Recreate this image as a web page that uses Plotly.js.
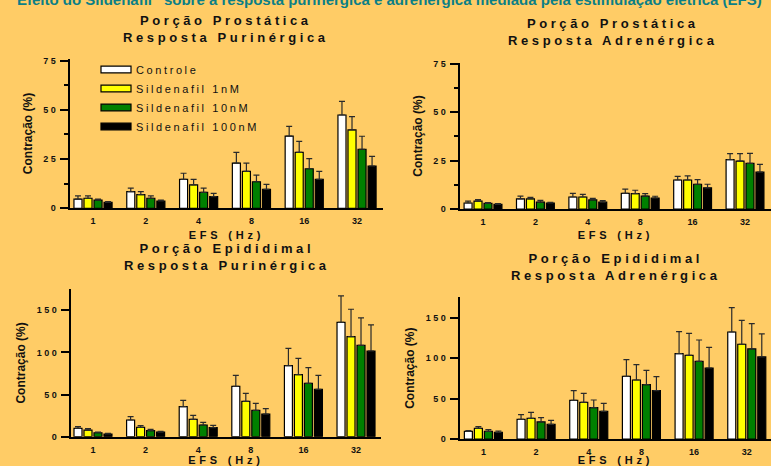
<!DOCTYPE html>
<html>
<head>
<meta charset="utf-8">
<script src="https://cdn.plot.ly/plotly-3.0.1.min.js"></script>
<style>
  html, body { margin: 0; padding: 0; background: #FFCC66; }
  #chart { width: 771px; height: 466px; }
  .annotation-text { letter-spacing: 3.6px; }
  .legendtext { letter-spacing: 2.6px; }
  .xtitle, .x2title, .x3title, .x4title { letter-spacing: 3.8px; }
  .ytick text, .y2tick text, .y3tick text, .y4tick text { letter-spacing: 2.5px; }
  .legend .legendpoints path { transform: translate(20px, 0px) scale(2.5, 0.56); vector-effect: non-scaling-stroke; }
</style>
</head>
<body>
<div id="chart"></div>
<script>
// ---- data ----
const freqs = ['1', '2', '4', '8', '16', '32'];
const seriesNames = ['Controle', 'Sildenafil 1nM', 'Sildenafil 10nM', 'Sildenafil 100nM'];
const seriesColors = ['#FFFFFF', '#FFFF00', '#008000', '#000000'];

// Porção Prostática – Resposta Purinérgica
const prostPurMean = [
  [4.7, 8.5, 14.7, 22.9, 36.7, 47.4],
  [5.1, 6.9, 11.9, 18.8, 28.4, 39.8],
  [4.2, 5.1, 8.1, 13.5, 20.1, 30.0],
  [3.0, 3.7, 5.9, 9.6, 14.7, 21.5]
];
const prostPurErr = [
  [1.6, 1.8, 3.1, 5.5, 4.9, 6.9],
  [1.2, 1.6, 2.8, 4.1, 5.6, 6.8],
  [0.5, 1.2, 2.1, 3.4, 5.1, 6.6],
  [0.4, 0.5, 1.7, 2.6, 4.1, 4.9]
];
// Porção Prostática – Resposta Adrenérgica
const prostAdrMean = [
  [3.1, 5.2, 6.2, 8.1, 15.0, 25.5],
  [4.1, 5.2, 6.2, 7.9, 15.0, 24.8],
  [2.9, 3.6, 4.7, 6.7, 12.8, 23.6],
  [2.4, 3.1, 3.6, 5.7, 10.9, 19.1]
];
const prostAdrErr = [
  [1.0, 1.5, 1.9, 2.2, 1.9, 3.1],
  [0.7, 0.8, 1.4, 1.8, 2.1, 3.8],
  [0.4, 0.9, 0.8, 1.2, 2.4, 5.2],
  [0.4, 0.3, 0.7, 0.9, 1.9, 4.0]
];
// Porção Epididimal – Resposta Purinérgica
const epidPurMean = [
  [9.9, 19.8, 35.6, 59.8, 84.3, 135.7],
  [7.9, 11.1, 20.6, 41.9, 73.6, 118.7],
  [4.7, 7.1, 13.9, 31.3, 63.3, 108.4],
  [3.2, 5.5, 10.7, 26.9, 56.2, 101.7]
];
const epidPurErr = [
  [2.0, 3.9, 7.5, 13.0, 20.6, 31.3],
  [1.6, 2.0, 4.7, 9.5, 19.4, 32.5],
  [0.8, 1.6, 3.1, 8.3, 18.6, 32.5],
  [0.8, 0.8, 2.8, 6.3, 16.6, 30.9]
];
// Porção Epididimal – Resposta Adrenérgica
const epidAdrMean = [
  [9.5, 24.4, 47.9, 77.7, 105.8, 132.6],
  [13.2, 25.6, 45.5, 73.1, 103.7, 117.4],
  [9.5, 21.1, 38.8, 67.4, 96.3, 111.6],
  [8.3, 18.2, 34.3, 59.9, 88.0, 101.7]
];
const epidAdrErr = [
  [0.8, 5.8, 12.0, 20.6, 27.3, 30.2],
  [2.1, 7.5, 11.1, 19.0, 27.3, 29.7],
  [2.1, 5.3, 9.5, 17.7, 26.4, 31.4],
  [1.6, 4.9, 9.9, 17.4, 25.6, 28.5]
];

const headerText = 'Efeito do Sildenafil<sup>®</sup> sobre a resposta purinérgica e adrenérgica mediada pela estimulação elétrica (EFS)';
const panelTitles = [
  'Porção Prostática<br>Resposta Purinérgica',
  'Porção Prostática<br>Resposta Adrenérgica',
  'Porção Epididimal<br>Resposta Purinérgica',
  'Porção Epididimal<br>Resposta Adrenérgica'
];
const xTitle = 'EFS (Hz)';
const yTitle = 'Contração (%)';
const yTicksTop = [0, 25, 50, 75];
const yTicksTopText = ['0', '25', '50', '75'];
const yMinorTop = [12.5, 37.5, 62.5];
const yTicksBottom = [0, 50, 100, 150];
const yTicksBottomText = ['0', '50', '100', '150'];

// ---- build ----
const W = 771, H = 466;
const FONT = 'Arial, "Liberation Sans", sans-serif';
const panels = [
  { mean: prostPurMean, err: prostPurErr, xa: 'x', ya: 'y' },
  { mean: prostAdrMean, err: prostAdrErr, xa: 'x2', ya: 'y2' },
  { mean: epidPurMean, err: epidPurErr, xa: 'x3', ya: 'y3' },
  { mean: epidAdrMean, err: epidAdrErr, xa: 'x4', ya: 'y4' }
];

const traces = [];
panels.forEach((p, pi) => {
  seriesNames.forEach((name, si) => {
    traces.push({
      type: 'bar',
      name: name,
      x: freqs,
      y: p.mean[si],
      xaxis: p.xa,
      yaxis: p.ya,
      showlegend: pi === 0,
      marker: { color: seriesColors[si], line: { color: '#000000', width: 1.2 } },
      error_y: {
        type: 'data', symmetric: false,
        array: p.err[si], arrayminus: p.err[si].map(() => 0),
        color: '#2a2a2a', thickness: 1.2, width: 3
      },
      hoverinfo: 'x+y+name'
    });
  });
});

function xAxis(d, range, anchor) {
  return {
    domain: [d[0] / W, d[1] / W], anchor: anchor, type: 'category', range: range,
    showline: true, linecolor: '#000', linewidth: 2, ticks: '', showgrid: false, zeroline: false,
    tickfont: { family: FONT, size: 9, color: '#111', weight: 'bold' },
    ticklabelstandoff: 3,
    title: { text: xTitle, font: { family: FONT, size: 11, color: '#111', weight: 'bold' }, standoff: 6 }
  };
}
function yAxis(bottomPx, topPx, range, vals, txt, minor, anchor) {
  const ax = {
    domain: [1 - bottomPx / H, 1 - topPx / H], anchor: anchor, range: range,
    showline: true, linecolor: '#000', linewidth: 2, showgrid: false, zeroline: false,
    ticks: 'outside', ticklen: 8, tickwidth: 2, tickcolor: '#000',
    tickmode: 'array', tickvals: vals, ticktext: txt,
    tickfont: { family: FONT, size: 9, color: '#111', weight: 'bold' },
    ticklabelstandoff: 0,
    title: { text: yTitle, font: { family: FONT, size: 12, color: '#111', weight: 'bold' }, standoff: 8 }
  };
  if (minor) ax.minor = { tickmode: 'array', tickvals: minor, ticks: 'outside', ticklen: 4, tickwidth: 2, tickcolor: '#000' };
  return ax;
}

const titleFont = { family: FONT, size: 13, color: '#111', weight: 'bold' };
const titlePos = [[226, 29], [613, 32], [227, 257], [616, 267]];
const annotations = panelTitles.map((t, i) => ({
  text: t, xref: 'paper', yref: 'paper',
  x: titlePos[i][0] / W, y: 1 - titlePos[i][1] / H,
  xanchor: 'center', yanchor: 'middle', showarrow: false, font: titleFont, align: 'center'
}));

const layout = {
  width: W, height: H,
  margin: { l: 0, r: 0, t: 0, b: 0 },
  paper_bgcolor: '#FFCC66', plot_bgcolor: 'rgba(0,0,0,0)',
  barmode: 'group', bargap: 0.24, bargroupgap: 0.2,
  showlegend: true,
  legend: {
    x: 96 / W, y: 1 - 55 / H, xanchor: 'left', yanchor: 'top',
    bgcolor: 'rgba(0,0,0,0)', borderwidth: 0, tracegroupgap: 0,
    font: { family: FONT, size: 11, color: '#111' },
    itemclick: false, itemdoubleclick: false
  },
  title: {
    text: headerText, xref: 'paper', yref: 'container',
    x: 17 / W, xanchor: 'left', y: 1, yanchor: 'middle',
    font: { family: FONT, size: 15, color: '#0B7F86', weight: 'bold' }
  },
  xaxis: xAxis([70, 383], [-0.436, 5.492], 'y'),
  yaxis: yAxis(208.3, 58.7, [0, 76], yTicksTop, yTicksTopText, yMinorTop, 'x'),
  xaxis2: xAxis([460, 771], [-0.439, 5.496], 'y2'),
  yaxis2: yAxis(209, 63, [0, 75.5], yTicksTop, yTicksTopText, yMinorTop, 'x2'),
  xaxis3: xAxis([71, 381], [-0.418, 5.475], 'y3'),
  yaxis3: yAxis(436.7, 289.2, [0, 175], yTicksBottom, yTicksBottomText, null, 'x3'),
  xaxis4: xAxis([460, 771], [-0.444, 5.46], 'y4'),
  yaxis4: yAxis(439, 297.3, [0, 175.6], yTicksBottom, yTicksBottomText, null, 'x4'),
  annotations: annotations
};

Plotly.newPlot('chart', traces, layout, { displayModeBar: false, responsive: false });
</script>
</body>
</html>
